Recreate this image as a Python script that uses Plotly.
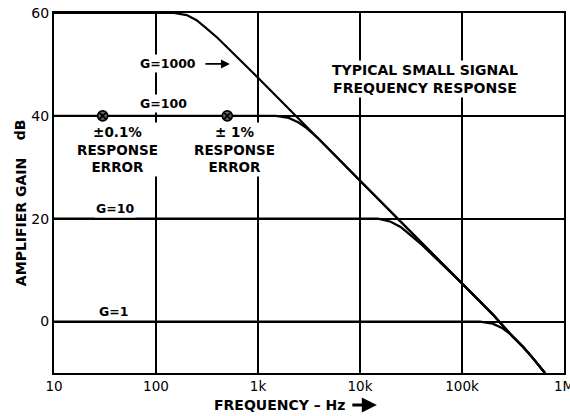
import plotly.graph_objects as go

# Frequency (Hz) and gain (dB)
freq_g1000 = [10, 150, 200, 250, 300, 400, 1000, 10000, 100000, 200000, 300000, 400000, 500000, 650000]
gain_g1000 = [60, 60, 59.6, 58.6, 57.3, 55.2, 47.4, 27.4, 7.4, 1.4, -2.5, -5.0, -7.2, -10]

freq_g100 = [10, 1500, 2000, 2500, 3000, 4000, 10000, 100000, 200000, 300000, 400000, 500000, 650000]
gain_g100 = [40, 40, 39.6, 38.7, 37.6, 35.4, 27.4, 7.4, 1.4, -2.5, -5.0, -7.2, -10]

freq_g10 = [10, 15000, 20000, 25000, 30000, 40000, 100000, 200000, 300000, 400000, 500000, 650000]
gain_g10 = [20, 20, 19.4, 18.4, 17.1, 15.0, 7.4, 1.4, -2.5, -5.0, -7.2, -10]

freq_g1 = [10, 150000, 200000, 250000, 300000, 400000, 500000, 650000]
gain_g1 = [0, 0, -0.4, -1.3, -2.5, -5.0, -7.2, -10]

err_freq = [30, 500]
err_gain = [40, 40]

x_tickvals = [10, 100, 1000, 10000, 100000, 1000000]
x_ticktext = ["10", "100", "1k", "10k", "100k", "1M"]
y_tickvals = [0, 20, 40, 60]
y_ticktext = ["0", "20", "40", "60"]

FONT = "DejaVu Sans"
LW = 2.2

fig = go.Figure()
for fx, gy in [(freq_g1000, gain_g1000), (freq_g100, gain_g100), (freq_g10, gain_g10), (freq_g1, gain_g1)]:
    fig.add_trace(go.Scatter(x=fx, y=gy, mode="lines", line=dict(color="black", width=LW),
                             showlegend=False, hoverinfo="skip"))

fig.add_trace(go.Scatter(x=err_freq, y=err_gain, mode="markers",
                         marker=dict(symbol="circle", size=10, color="#666"),
                         showlegend=False, hoverinfo="skip"))
fig.add_trace(go.Scatter(x=err_freq, y=err_gain, mode="markers",
                         marker=dict(symbol="circle-x-open", size=10, color="black",
                                     line=dict(color="black", width=1.8)),
                         showlegend=False, hoverinfo="skip"))

ann = []
def t(x, y, text, size=12, bg="white", **kw):
    d = dict(x=x, y=y, xref="x", yref="y", text=text, showarrow=False,
             xanchor="center", yanchor="middle",
             font=dict(family=FONT, size=size, color="black"), bgcolor=bg, borderpad=1)
    d.update(kw)
    ann.append(d)

t(2.12, 50.1, "<b>G=1000</b>", size=12.5)
t(2.07, 42.4, "<b>G=100</b>", size=12.5)
t(1.60, 21.9, "<b>G=10</b>", size=12.5)
t(1.58, 1.9, "<b>G=1</b>", size=12.5, bg="rgba(0,0,0,0)")
t(1.62, 33.5, "<b>±0.1%<br>RESPONSE<br>ERROR</b>", size=13.5)
t(2.77, 33.5, "<b>± 1%<br>RESPONSE<br>ERROR</b>", size=13.5)
t(4.64, 47.1, "<b>TYPICAL SMALL SIGNAL<br>FREQUENCY RESPONSE</b>", size=14)

# arrow for G=1000
ann.append(dict(x=2.725, y=50.1, xref="x", yref="y", ax=-26, ay=0, text="",
                showarrow=True, arrowhead=2, arrowsize=1, arrowwidth=1.8, arrowcolor="black"))

# axis titles
ann.append(dict(x=-0.066, y=0.42, xref="paper", yref="paper", text="<b>AMPLIFIER GAIN</b>",
                xanchor="center", yanchor="middle",
                textangle=-90, showarrow=False, font=dict(family=FONT, size=14, color="black")))
ann.append(dict(x=-0.066, y=0.675, xref="paper", yref="paper", text="<b>dB</b>",
                xanchor="center", yanchor="middle",
                textangle=-90, showarrow=False, font=dict(family=FONT, size=14, color="black")))
ann.append(dict(x=0.443, y=-0.089, xref="paper", yref="paper", text="<b>FREQUENCY – Hz</b>",
                xanchor="center", yanchor="middle",
                showarrow=False, font=dict(family=FONT, size=14, color="black")))
ann.append(dict(x=0.633, y=-0.089, xref="paper", yref="paper", ax=-26, ay=0, text="",
                showarrow=True, arrowhead=2, arrowsize=1, arrowwidth=3, arrowcolor="black"))

fig.update_layout(
    width=570, height=416,
    margin=dict(l=54, r=6, t=13, b=43, autoexpand=False),
    paper_bgcolor="white", plot_bgcolor="white",
    annotations=ann,
    xaxis=dict(type="log", range=[1, 6], tickvals=x_tickvals, ticktext=x_ticktext,
               showgrid=True, gridcolor="black", gridwidth=1.5, automargin=False,
               ticklabeloverflow="allow",
               showline=True, linecolor="black", linewidth=2, mirror=True,
               ticks="", tickfont=dict(family=FONT, size=13.5, color="black"), zeroline=False),
    yaxis=dict(range=[-10, 60], tickvals=y_tickvals, ticktext=y_ticktext,
               showgrid=True, gridcolor="black", gridwidth=1.5, automargin=False,
               showline=True, linecolor="black", linewidth=2, mirror=True,
               ticks="", tickfont=dict(family=FONT, size=14, color="black"), zeroline=False),
)

fig.write_html("out.html", config={"displayModeBar": False},
               post_script="document.body.style.margin='0px';document.body.style.overflow='hidden';")
